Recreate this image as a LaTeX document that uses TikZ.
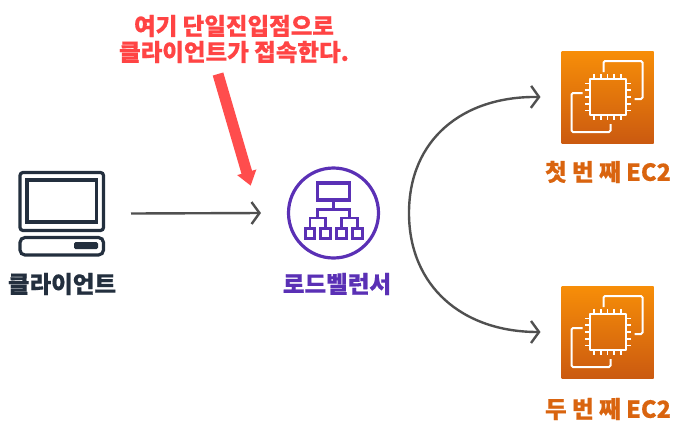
\documentclass[tikz,border=0pt]{standalone}
\usepackage{fontspec}
\setmainfont{Noto Sans CJK KR Black}[FakeBold=0.5]
\usetikzlibrary{arrows.meta}

\definecolor{navyc}{HTML}{232F3E}
\definecolor{purplec}{HTML}{5A30B5}
\definecolor{orangec}{HTML}{D9640F}
\definecolor{redc}{HTML}{FF4444}
\definecolor{grayc}{HTML}{505050}
\definecolor{ectopc}{HTML}{F78E08}
\definecolor{ecbotc}{HTML}{CB5A10}

\tikzset{
  lbl/.style={font=\fontsize{23.5}{28}\selectfont, inner sep=0pt},
  iconbox/.style={minimum size=92pt, inner sep=0pt, outer sep=0pt, top color=ectopc, bottom color=ecbotc},
  link/.style={grayc, line width=2.4pt, -{Straight Barb[length=8pt,width=22pt,line width=2.4pt]}},
  pics/chipicon/.style={code={
    \draw[white, line width=2pt, line join=round] (-18,-18) rectangle (18,18);
    \foreach \i in {-13.5,-6.75,0,6.75,13.5}{
      \draw[white, line width=1.8pt] (\i,-18)--(\i,-23);
      \draw[white, line width=1.8pt] (\i,18)--(\i,23);
      \draw[white, line width=1.8pt] (-18,\i)--(-23,\i);
      \draw[white, line width=1.8pt] (18,\i)--(23,\i);
    }
    \draw[white, line width=2pt, rounded corners=1.5pt] (-4,-25)--(-4,-36)--(35,-36)--(35,2)--(27,2);
    \draw[white, line width=2pt, rounded corners=1.5pt] (-25,-4)--(-36,-4)--(-36,35)--(3,35)--(3,27);
  }}
}

\begin{document}
\begin{tikzpicture}[x=1pt, y=-1pt, >=latex]
\useasboundingbox (0,0) rectangle (682,432);

% client
\node[minimum width=86pt, minimum height=86pt, inner sep=0pt, outer sep=0pt] (client) at (62,213.5) {};
\draw[navyc, line width=3.2pt, rounded corners=3pt] (20,172.5) rectangle (103.5,230.5);
\draw[navyc, line width=3.2pt] (27,180) rectangle (96.5,222);
\draw[navyc, line width=3.2pt, rounded corners=5pt] (20,237.5) rectangle (103.5,255);
\fill[navyc, rounded corners=1.5pt] (74,242) rectangle (98,249);
\node[lbl, navyc] (clientlbl) at (62,284) {클라이언트};

% load balancer
\node[draw=purplec, circle, line width=3.2pt, minimum size=90pt, inner sep=0pt, outer sep=1.5pt] (lb) at (333.5,213) {};
\draw[purplec, line width=3.2pt] (317.7,183) rectangle (349.3,200);
\draw[purplec, line width=2.8pt] (333.5,200)--(333.5,209.3);
\draw[purplec, line width=2.8pt] (317.7,218)--(317.7,209.3)--(349.3,209.3)--(349.3,218);
\foreach \j in {317.7,349.3}{
  \draw[purplec, line width=2.8pt] (\j-7.8,228)--(\j-7.8,218)--(\j+7.8,218)--(\j+7.8,228);
  \draw[purplec, line width=3pt] (\j-12.7,228) rectangle (\j-3,238);
  \draw[purplec, line width=3pt] (\j+3,228) rectangle (\j+12.7,238);
}
\node[lbl, purplec] (lblbl) at (337,284) {로드벨런서};

% ec2
\node[iconbox] (ectop) at (607.5,97) {};
\pic at (ectop) {chipicon};
\node[lbl, orangec] (ectoplbl) at (608,172) {첫 번 째 EC2};

\node[iconbox] (ecbot) at (607.5,332) {};
\pic at (ecbot) {chipicon};
\node[lbl, orangec] (ecbotlbl) at (608,409) {두 번 째 EC2};

% note
\node[lbl, redc, align=center, font=\fontsize{23.5}{26}\selectfont] (note) at (234,39) {여기 단일진입점으로\\클라이언트가 접속한다.};
\coordinate (notetail) at (218,74);
\coordinate (notetip) at (250.7,185.7);
\draw[redc!95!white, line width=11pt, -{Triangle[length=14pt,width=19pt]}] (notetail)--(notetip);

% connectors
\draw[link] ([xshift=26]client.east)--([xshift=-26]lb.west);
\coordinate (bend) at (409,213);
\draw[link] (bend) .. controls (409,140) and (462,96) .. ([xshift=-21]ectop.west);
\draw[link] (bend) .. controls (409,286) and (462,332) .. ([xshift=-21]ecbot.west);

\end{tikzpicture}
\end{document}
